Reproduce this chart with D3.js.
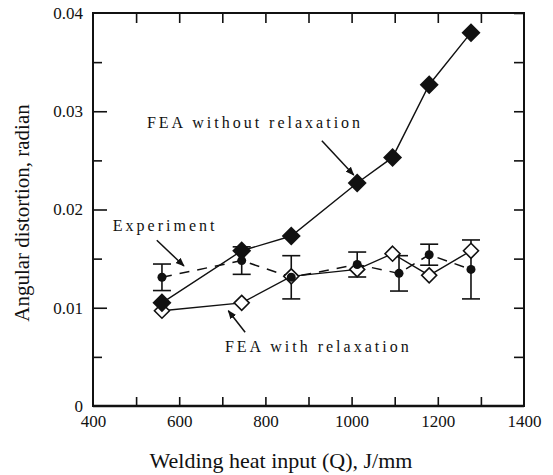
<!DOCTYPE html>
<html>
<head>
<meta charset="utf-8">
<script src="https://cdn.jsdelivr.net/npm/d3@7"></script>
<style>
  html, body { margin: 0; padding: 0; background: #fff; }
  svg { display: block; }
  .axis path { display: none; }
  .axis line { stroke: #111; stroke-width: 1.6; }
</style>
</head>
<body>
<svg id="chart" width="553" height="475"></svg>
<script>
// ---- data ----
const heatInput = [560, 745, 860, 1013, 1095, 1180, 1277];
const feaNoRelax = [0.0105, 0.0158, 0.0173, 0.0227, 0.0253, 0.0327, 0.0380];
const feaRelax = [0.0097, 0.0105, 0.0132, 0.0139, 0.0155, 0.0133, 0.0158];

const expInput = [560, 745, 860, 1013, 1110, 1180, 1277];
const expMean = [0.0131, 0.0148, 0.0131, 0.0144, 0.0135, 0.0154, 0.0139];
const expErr = [0.00135, 0.0014, 0.0022, 0.00127, 0.0018, 0.00107, 0.0030];

const xTicks = [400, 600, 800, 1000, 1200, 1400];
const yTicks = [0, 0.01, 0.02, 0.03, 0.04];
const yTickLabels = ["0", "0.01", "0.02", "0.03", "0.04"];

// annotations: [text, text anchor (x, y), arrow from, arrow to] in data units
const annotations = [
  ["FEA without relaxation", [525, 0.02826], [931, 0.0270], [1005, 0.0235]],
  ["Experiment", [446, 0.01784], [548, 0.01687], [611, 0.01425]],
  ["FEA with relaxation", [706, 0.00547], [753, 0.0075], [714, 0.0097]]
];

const SERIF = "'Liberation Serif', 'Times New Roman', serif";

// ---- setup ----
const svg = d3.select("#chart").attr("font-family", SERIF);
const margin = { top: 13, right: 29, bottom: 69, left: 93 };
const width = 553, height = 475;
const innerW = width - margin.left - margin.right;
const innerH = height - margin.top - margin.bottom;

const x = d3.scaleLinear().domain([400, 1400]).range([0, innerW]);
const y = d3.scaleLinear().domain([0, 0.04]).range([innerH, 0]);

const g = svg.append("g").attr("transform", `translate(${margin.left},${margin.top})`);

svg.append("defs").append("marker")
  .attr("id", "arrow")
  .attr("viewBox", "0 0 10 10")
  .attr("refX", 9).attr("refY", 5)
  .attr("markerWidth", 9).attr("markerHeight", 9)
  .attr("markerUnits", "userSpaceOnUse")
  .attr("orient", "auto")
  .append("path")
  .attr("d", "M0,1 L10,5 L0,9 Z")
  .attr("fill", "#111");

// axis helper: d3 puts sans-serif on the group, so reset it
function styleAxis(sel) {
  sel.attr("font-family", SERIF).attr("font-size", 17);
  sel.selectAll(".tick text").attr("fill", "#111");
}

// ---- axes (ticks pointing inward) ----
const minorX = d3.range(500, 1400, 100);
const minorY = d3.range(0.005, 0.04, 0.01);
const allY = d3.range(0.005, 0.04, 0.005);

g.append("g").attr("class", "axis")
  .attr("transform", `translate(0,${innerH})`)
  .call(d3.axisBottom(x).tickValues(minorX).tickSize(-9).tickFormat(""));
g.append("g").attr("class", "axis")
  .attr("transform", `translate(0,${innerH})`)
  .call(d3.axisBottom(x).tickValues(xTicks).tickSize(0).tickPadding(9).tickFormat(d3.format("d")))
  .call(styleAxis);

g.append("g").attr("class", "axis")
  .call(d3.axisTop(x).tickValues(minorX).tickSize(-10).tickFormat(""));

g.append("g").attr("class", "axis")
  .call(d3.axisLeft(y).tickValues(minorY).tickSize(-9).tickFormat(""));
g.append("g").attr("class", "axis")
  .call(d3.axisLeft(y).tickValues(yTicks.slice(1, 4)).tickSize(-14).tickFormat(""));
g.append("g").attr("class", "axis")
  .call(d3.axisLeft(y).tickValues(yTicks).tickSize(0).tickPadding(10)
    .tickFormat((d, i) => yTickLabels[i]))
  .call(styleAxis);

g.append("g").attr("class", "axis")
  .attr("transform", `translate(${innerW},0)`)
  .call(d3.axisRight(y).tickValues(allY).tickSize(-10).tickFormat(""));

// frame
g.append("rect")
  .attr("width", innerW).attr("height", innerH)
  .attr("fill", "none").attr("stroke", "#111").attr("stroke-width", 2);
g.append("line")
  .attr("x1", 0).attr("x2", innerW).attr("y1", innerH).attr("y2", innerH)
  .attr("stroke", "#111").attr("stroke-width", 2.6);

// axis titles
svg.append("text")
  .attr("x", 281).attr("y", 468)
  .attr("text-anchor", "middle")
  .attr("font-size", 22).attr("fill", "#111")
  .text("Welding heat input (Q), J/mm");

svg.append("text")
  .attr("transform", `translate(29,${margin.top + 200}) rotate(-90)`)
  .attr("text-anchor", "middle")
  .attr("font-size", 21).attr("fill", "#111")
  .text("Angular distortion, radian");

// ---- series ----
const line = d3.line().x((d) => x(d[0])).y((d) => y(d[1]));
const noRelaxPts = heatInput.map((v, i) => [v, feaNoRelax[i]]);
const relaxPts = heatInput.map((v, i) => [v, feaRelax[i]]);
const expPts = expInput.map((v, i) => [v, expMean[i], expErr[i]]);

// experiment dashed line
g.append("path").datum(expPts)
  .attr("d", line).attr("fill", "none")
  .attr("stroke", "#111").attr("stroke-width", 1.5)
  .attr("stroke-dasharray", "10,8");

g.append("path").datum(noRelaxPts)
  .attr("d", line).attr("fill", "none")
  .attr("stroke", "#111").attr("stroke-width", 1.4);
g.append("path").datum(relaxPts)
  .attr("d", line).attr("fill", "none")
  .attr("stroke", "#111").attr("stroke-width", 1.4);

// error bars
const eb = g.append("g").attr("stroke", "#111").attr("stroke-width", 1.6);
expPts.forEach((d) => {
  const cx = x(d[0]);
  eb.append("line").attr("x1", cx).attr("x2", cx)
    .attr("y1", y(d[1] - d[2])).attr("y2", y(d[1] + d[2]));
  [d[1] - d[2], d[1] + d[2]].forEach((v) => {
    eb.append("line").attr("x1", cx - 9).attr("x2", cx + 9)
      .attr("y1", y(v)).attr("y2", y(v));
  });
});

// markers
const diamond = (r) => `M0,${-r} L${r},0 L0,${r} L${-r},0 Z`;

g.append("g").selectAll("path").data(relaxPts).join("path")
  .attr("transform", (d) => `translate(${x(d[0])},${y(d[1])})`)
  .attr("d", diamond(7.5))
  .attr("fill", "#fff").attr("stroke", "#111").attr("stroke-width", 1.6);

g.append("g").selectAll("circle").data(expPts).join("circle")
  .attr("cx", (d) => x(d[0])).attr("cy", (d) => y(d[1]))
  .attr("r", 4.5).attr("fill", "#111");

g.append("g").selectAll("path").data(noRelaxPts).join("path")
  .attr("transform", (d) => `translate(${x(d[0])},${y(d[1])})`)
  .attr("d", diamond(9.5))
  .attr("fill", "#111");

// ---- annotations ----
annotations.forEach(([label, pos, from, to]) => {
  g.append("text")
    .attr("x", x(pos[0])).attr("y", y(pos[1]))
    .attr("font-size", 16).attr("letter-spacing", 3).attr("fill", "#111")
    .text(label);
  g.append("line")
    .attr("x1", x(from[0])).attr("y1", y(from[1]))
    .attr("x2", x(to[0])).attr("y2", y(to[1]))
    .attr("stroke", "#111").attr("stroke-width", 1.5)
    .attr("marker-end", "url(#arrow)");
});
</script>
</body>
</html>
